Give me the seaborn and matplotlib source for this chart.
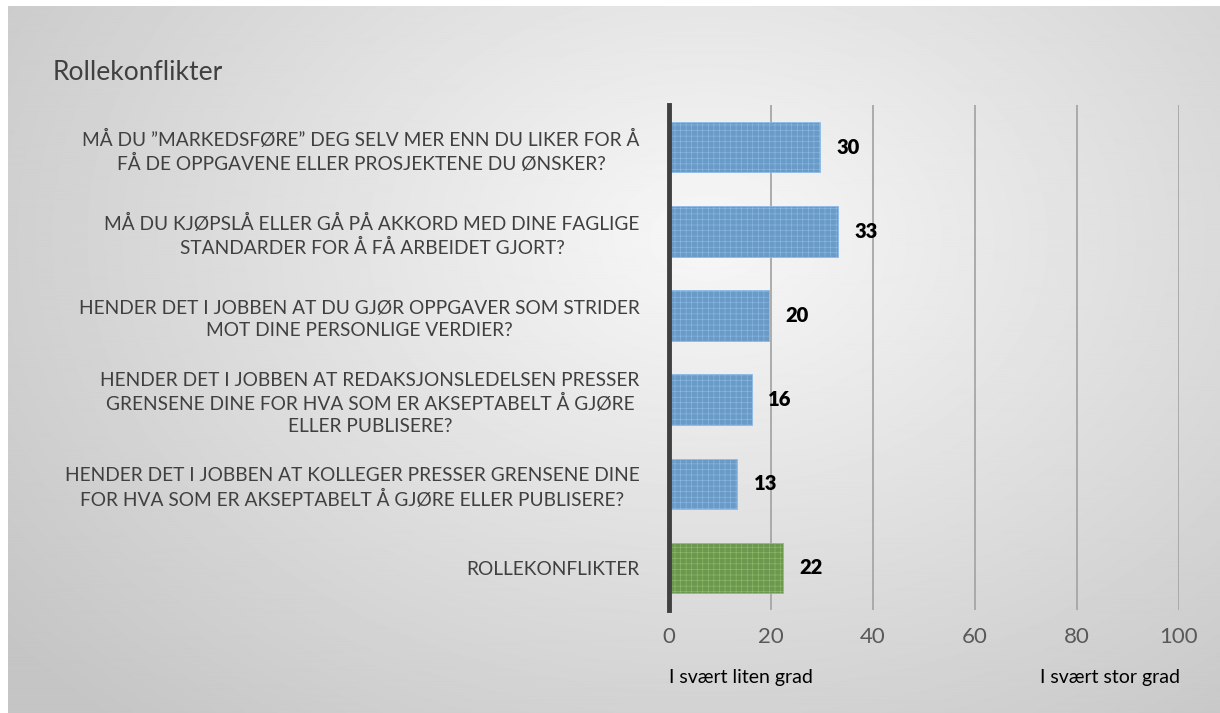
import matplotlib
matplotlib.use("Agg")
import matplotlib.pyplot as plt
import seaborn as sns
import numpy as np
import pandas as pd

title = "Rollekonflikter"
questions = [
    "MÅ DU \u201dMARKEDSFØRE\u201d DEG SELV MER ENN DU LIKER FOR Å\nFÅ DE OPPGAVENE ELLER PROSJEKTENE DU ØNSKER?",
    "MÅ DU KJØPSLÅ ELLER GÅ PÅ AKKORD MED DINE FAGLIGE\nSTANDARDER FOR Å FÅ ARBEIDET GJORT?",
    "HENDER DET I JOBBEN AT DU GJØR OPPGAVER SOM STRIDER\nMOT DINE PERSONLIGE VERDIER?",
    "HENDER DET I JOBBEN AT REDAKSJONSLEDELSEN PRESSER\nGRENSENE DINE FOR HVA SOM ER AKSEPTABELT Å GJØRE\nELLER PUBLISERE?",
    "HENDER DET I JOBBEN AT KOLLEGER PRESSER GRENSENE DINE\nFOR HVA SOM ER AKSEPTABELT Å GJØRE ELLER PUBLISERE?",
    "ROLLEKONFLIKTER",
]
values = [29.7, 33.1, 19.7, 16.3, 13.4, 22.4]
bar_colors = ["#5b9bd5"] * 5 + ["#6aa343"]
hatch_colors = ["#8dbbe8"] * 5 + ["#8fc06a"]
x_ticks = [0, 20, 40, 60, 80, 100]
x_low_label = "I svært liten grad"
x_high_label = "I svært stor grad"

df = pd.DataFrame({"question": questions, "value": values})

sns.set_style("white")
plt.rcParams["font.family"] = ["Lato", "DejaVu Sans"]
plt.rcParams["hatch.linewidth"] = 0.4
text_color = "#404040"

fig = plt.figure(figsize=(12.2, 7.13), dpi=100)

# gradient background
bg = fig.add_axes([8 / 1220, 0, 1 - 8 / 1220, 1 - 6 / 713])
yy, xx = np.mgrid[0:700, 0:1212]
d = np.sqrt(((xx - 700) / 900.0) ** 2 + ((yy - 230) / 650.0) ** 2)
shade = np.clip(0.97 - 0.2 * d, 0.77, 1)
bg.imshow(shade, cmap="gray", vmin=0, vmax=1, aspect="auto", interpolation="bilinear")
bg.set_axis_off()

ax = fig.add_axes([669 / 1220, 1 - 610 / 713, 510 / 1220, 505 / 713])
ax.patch.set_alpha(0)
sns.barplot(data=df, y="question", x="value", hue="question", palette=bar_colors,
            legend=False, width=0.6, ax=ax, orient="h")
for patch, hc in zip(ax.patches, hatch_colors):
    patch.set_hatch("+++")
    patch.set_edgecolor(hc)
    patch.set_linewidth(0.6)

ax.set_xlim(0, 100)
ax.set_xticks(x_ticks)
ax.set_xticklabels([str(t) for t in x_ticks], fontsize=16, color="#595959")
ax.xaxis.grid(True, color="#a6a6a6", linewidth=1.3)
ax.set_axisbelow(True)
ax.tick_params(axis="x", length=0, pad=12)
ax.tick_params(axis="y", length=0, pad=21)
ax.set_yticks(range(len(questions)))
ax.set_yticklabels(questions, fontsize=13.8, color=text_color, linespacing=1.35)
for lbl in ax.get_yticklabels():
    lbl.set_multialignment("center")
for s in ["top", "right", "bottom"]:
    ax.spines[s].set_visible(False)
ax.spines["left"].set_color("#404040")
ax.spines["left"].set_linewidth(3.5)
ax.set_xlabel("")
ax.set_ylabel("")

for i, v in enumerate(values):
    ax.text(v + 3.2, i, f"{v:.0f}", va="center", ha="left", fontsize=14.5,
            fontweight="heavy", color="black")

fig.text(53 / 1220, 1 - 72 / 713, title, fontsize=19, color=text_color, va="center")
fig.text(669 / 1220, 1 - 677 / 713, x_low_label, fontsize=14, color="black", va="center")
fig.text(1110 / 1220, 1 - 677 / 713, x_high_label, fontsize=14, color="black", va="center", ha="center")

fig.savefig("out.png", dpi=100)
